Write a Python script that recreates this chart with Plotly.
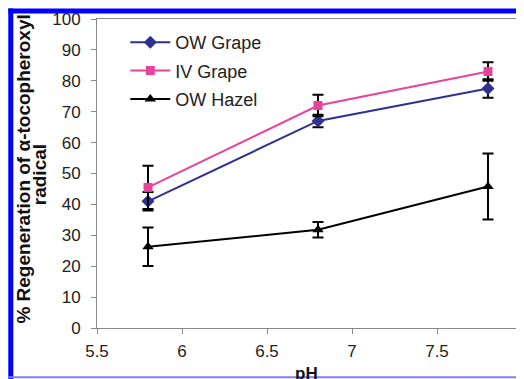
import plotly.graph_objects as go

ph = [5.8, 6.8, 7.8]
ow_grape = [41, 67, 77.5]
ow_grape_err = [3, 2, 3]
iv_grape = [45.5, 72, 83]
iv_grape_err = [7, 3.5, 3]
ow_hazel = [26.3, 31.8, 45.8]
ow_hazel_err = [6.2, 2.5, 10.7]

x_ticks = [5.5, 6, 6.5, 7, 7.5, 8]
y_ticks = [0, 10, 20, 30, 40, 50, 60, 70, 80, 90, 100]

FONT = "Arial, Liberation Sans, sans-serif"
OFF = 8  # page body margin
W, H = 524 - OFF, 379 - OFF
# plot area in window pixels
PX0, PX1, PY0, PY1 = 96.7, 521.7, 18.5, 327.7
L, R = PX0 - OFF, W - (PX1 - OFF)
T, B = PY0 - OFF, H - (PY1 - OFF)
PW, PHT = PX1 - PX0, PY1 - PY0


def px(xw):
    return (xw - PX0) / PW


def py(yw):
    return (PY1 - yw) / PHT


fig = go.Figure()
series = [
    ("OW Grape", ow_grape, ow_grape_err, "#2E3192", "diamond", 10),
    ("IV Grape", iv_grape, iv_grape_err, "#E8439B", "square", 9),
    ("OW Hazel", ow_hazel, ow_hazel_err, "#000000", "triangle-up", 10),
]
for i, (name, vals, errs, col, sym, sz) in enumerate(series):
    fig.add_trace(go.Scatter(
        x=ph, y=vals, name=name, mode="lines+markers",
        line=dict(color=col, width=2),
        marker=dict(color=col, symbol=sym, size=sz),
        error_y=dict(type="data", array=errs, visible=True, color="#000000",
                     thickness=2, width=5.5),
        legendgroup=f"g{i}",
    ))

fig.update_layout(
    width=W, height=H,
    margin=dict(l=L, r=R, t=T, b=B, autoexpand=False),
    paper_bgcolor="white", plot_bgcolor="white",
    font=dict(family=FONT, size=17, color="#222222"),
    showlegend=True,
    legend=dict(x=px(125), y=py(23.5), xanchor="left", yanchor="top",
                bgcolor="rgba(0,0,0,0)", font=dict(size=18, color="#222222"),
                tracegroupgap=2, itemwidth=40),
    xaxis=dict(range=[5.5, 8], tickvals=x_ticks,
               ticktext=[str(v) if v % 1 else str(int(v)) for v in x_ticks],
               showgrid=False, zeroline=False, showline=True,
               linecolor="#888888", linewidth=1, mirror=True,
               ticks="outside", ticklen=5, tickcolor="#888888",
               ticklabelstandoff=3, ticklabeloverflow="allow",
               tickfont=dict(size=17, color="#222222"), automargin=False),
    yaxis=dict(range=[0, 100], tickvals=y_ticks,
               showgrid=False, zeroline=False, showline=True,
               linecolor="#888888", linewidth=1, mirror=True,
               ticks="outside", ticklen=5, tickcolor="#888888",
               ticklabelstandoff=7, ticklabeloverflow="allow",
               tickfont=dict(size=17, color="#222222"), automargin=False),
)

fig.add_annotation(text="<b>% Regeneration of α-tocopheroxyl</b>", textangle=-90,
                   xref="paper", yref="paper", x=px(11), y=py(325),
                   xanchor="left", yanchor="bottom", showarrow=False,
                   font=dict(size=19, color="#111111", family=FONT))
fig.add_annotation(text="<b>radical</b>", textangle=-90,
                   xref="paper", yref="paper", x=px(39.5), y=py(174),
                   xanchor="center", yanchor="middle", showarrow=False,
                   font=dict(size=19, color="#111111", family=FONT))
fig.add_annotation(text="<b>pH</b>", xref="paper", yref="paper",
                   x=px(306), y=py(362), xanchor="center", yanchor="top",
                   showarrow=False, font=dict(size=17, color="#111111", family=FONT))

blue = "#0000FF"
frame = [
    (8, 8, 524, 13, blue),
    (8, 8, 13, 379, blue),
    (521.7, 8, 524, 377, blue),
    (8, 376, 524, 378, "#7F7FFF"),
]
for x0, y0, x1, y1, c in frame:
    fig.add_shape(type="rect", xref="paper", yref="paper",
                  x0=px(x0), x1=px(x1), y0=py(y0), y1=py(y1),
                  fillcolor=c, line=dict(width=0), layer="above")

fig.write_html("out.html")
